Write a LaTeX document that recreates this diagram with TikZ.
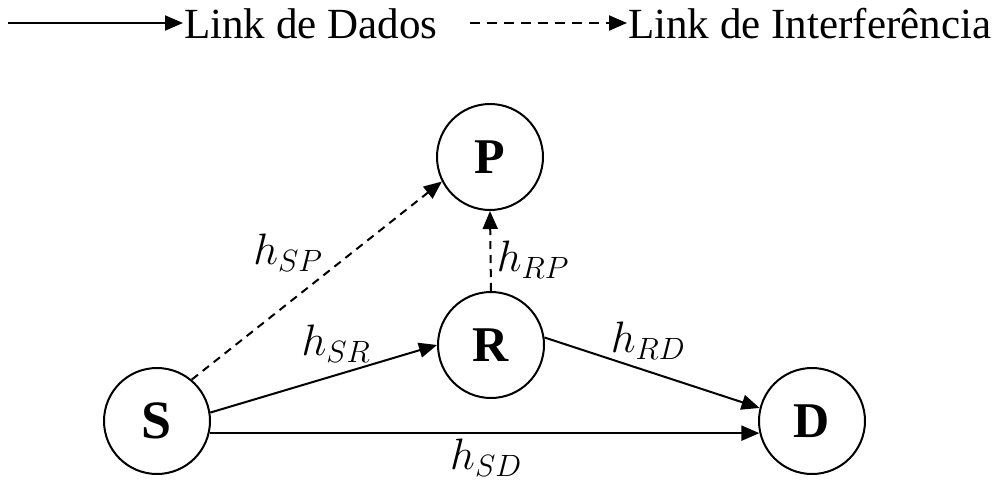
\documentclass[tikz,border=0pt]{standalone}
\usepackage{fix-cm}
\usepackage{fontspec}
\setmainfont{Liberation Serif}
\usetikzlibrary{arrows.meta}
\begin{document}
\begin{tikzpicture}[x=1pt,y=-1pt,
  station/.style={circle,draw,line width=2pt,minimum size=106pt,inner sep=0pt,
    font=\fontsize{50}{54}\selectfont\bfseries},
  link/.style={line width=2pt,-{Triangle[length=18pt,width=15pt]}},
  interf/.style={link,dash pattern=on 8pt off 6pt},
  chan/.style={font=\fontsize{44}{48}\selectfont},
  legtext/.style={anchor=base west,inner sep=0pt,font=\fontsize{43}{46}\selectfont}]
\useasboundingbox (0,0) rectangle (997,482);

% legend
\coordinate (la) at (8,23);
\coordinate (lb) at (183,23);
\node[legtext] (ld) at (184,38) {Link de Dados};
\coordinate (lc) at (470,23);
\coordinate (le) at (627,23);
\node[legtext] (li) at (628,38) {Link de Interferência};
\draw[link] (la) -- (lb);
\draw[interf,dash pattern=on 10pt off 7pt] (lc) -- (le);

% stations
\node[station] (P) at (490,157) {P};
\node[station] (R) at (491,345) {R};
\node[station] (S) at (157,421) {\fontsize{54}{58}\selectfont S};
\node[station] (D) at (812,421) {D};

% links
\draw[interf] (S.50) -- (P.207);
\draw[interf] (R.north) -- (P.south);
\draw[link] (S.9) -- (R.180);
\draw[link] (R.8) -- (D.166);
\draw[link] (S.-13) -- (D.193);

% channel labels
\node[chan] (hsp) at (288,253) {$h_{SP}$};
\node[chan] (hrp) at (533,260) {$h_{RP}$};
\node[chan] (hsr) at (336,344) {$h_{SR}$};
\node[chan] (hrd) at (648,341) {$h_{RD}$};
\node[chan] (hsd) at (486,458) {$h_{SD}$};
\end{tikzpicture}
\end{document}
